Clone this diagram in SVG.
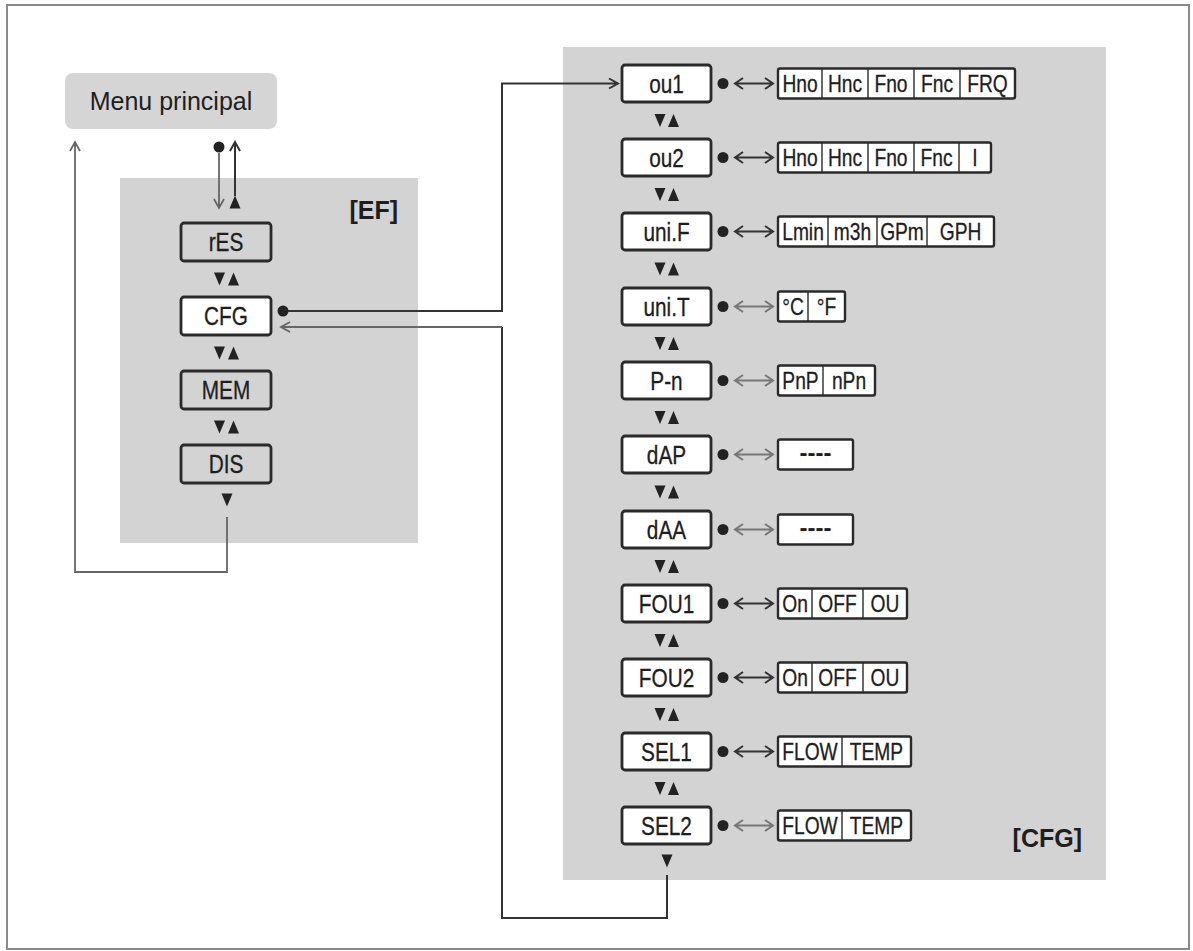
<svg xmlns="http://www.w3.org/2000/svg" width="1193" height="951" viewBox="0 0 1193 951">
<style>
text{font-family:"Liberation Sans",Arial,sans-serif;fill:#1e1e1e;}
.lbl{font-size:26px;text-anchor:middle;stroke:#1e1e1e;stroke-width:0.3;}
.opt{font-size:24px;text-anchor:middle;stroke:#1e1e1e;stroke-width:0.3;}
.big{font-size:25px;text-anchor:middle;}
.tag{font-size:25px;font-weight:bold;text-anchor:end;}
.dash{font-size:24px;text-anchor:middle;font-weight:bold;}
.panel{fill:#d3d3d3;}
.box{fill:#fff;stroke:#2a2a2a;stroke-width:2.8;}
.gbox{fill:#d3d3d3;stroke:#2a2a2a;stroke-width:2.8;}
.obox{fill:#fff;stroke:#2a2a2a;stroke-width:2.4;}
.div{stroke:#2a2a2a;stroke-width:1.4;}
.ln{fill:none;stroke:#333;stroke-width:2;}
.lg{fill:none;stroke:#666;stroke-width:1.8;}
.dot{fill:#222;}
.tri{fill:#222;}
.dbl{fill:none;stroke:#333;stroke-width:2;}
.dbl2{fill:none;stroke:#777;stroke-width:2;}
</style>
<defs>
<path id="dn" d="M-5.5,-6.5 H5.5 L0,6.5 Z"/>
<path id="up" d="M-5.5,6.5 H5.5 L0,-6.5 Z"/>
<path id="dblp" d="M0,0 H38 M8,-5.5 L0,0 L8,5.5 M30,-5.5 L38,0 L30,5.5"/>
</defs>
<rect x="0" y="0" width="1193" height="951" fill="#fff"/>
<rect x="7" y="5" width="1182" height="944" fill="none" stroke="#8a8a8a" stroke-width="2"/>

<rect id="panel-ef" class="panel" x="120" y="178" width="298" height="365"/>
<rect id="panel-cfg" class="panel" x="563" y="47" width="543" height="833"/>
<text class="tag" x="398" y="219">[EF]</text>
<text class="tag" x="1082" y="847">[CFG]</text>

<g id="menu">
<rect x="65" y="73" width="212" height="56" rx="8" fill="#d5d5d5"/>
<text class="big" x="171" y="110">Menu principal</text>
</g>

<g id="connectors">
<path class="lg" d="M227,517 V572 H75 V143 M70,151 L75,142 L80,151"/>
<circle class="dot" cx="219" cy="147" r="5.5"/>
<path class="lg" d="M219,153 V207 M214,199 L219,208 L224,199"/>
<path class="ln" d="M235,196 V143 M230,151 L235,142 L240,151"/>
<use href="#up" class="tri" x="235" y="202"/>
<circle class="dot" cx="283" cy="311" r="5.5"/>
<path class="ln" d="M288,311 H502 V83.5 H617 M609,78.5 L618,83.5 L609,88.5"/>
<path class="ln" d="M667,875 V918 H502 V327"/>
<path class="lg" d="M502,327 H281 M290,322 L281,327 L290,332"/>
<use href="#dn" class="tri" x="227" y="500"/>
<use href="#dn" class="tri" x="667" y="861"/>
</g>

<g id="ef-arrows">
<use href="#dn" class="tri" x="219.5" y="279"/><use href="#up" class="tri" x="233.5" y="279"/>
<use href="#dn" class="tri" x="219.5" y="353"/><use href="#up" class="tri" x="233.5" y="353"/>
<use href="#dn" class="tri" x="219.5" y="427"/><use href="#up" class="tri" x="233.5" y="427"/>
</g>

<g id="node-res"><rect class="gbox" x="181" y="223" width="90" height="38" rx="3"/><text class="lbl" transform="translate(226 251) scale(0.8 1)">rES</text></g>
<g id="node-cfg"><rect class="box" x="181" y="297" width="90" height="38" rx="3"/><text class="lbl" transform="translate(226 325) scale(0.8 1)">CFG</text></g>
<g id="node-mem"><rect class="gbox" x="181" y="371" width="90" height="38" rx="3"/><text class="lbl" transform="translate(226 399) scale(0.8 1)">MEM</text></g>
<g id="node-dis"><rect class="gbox" x="181" y="445" width="90" height="38" rx="3"/><text class="lbl" transform="translate(226 473) scale(0.8 1)">DIS</text></g>

<g id="cfg-arrows">
<use href="#dn" class="tri" x="660" y="120.5"/><use href="#up" class="tri" x="673.5" y="120.5"/>
<use href="#dn" class="tri" x="660" y="194.5"/><use href="#up" class="tri" x="673.5" y="194.5"/>
<use href="#dn" class="tri" x="660" y="269"/><use href="#up" class="tri" x="673.5" y="269"/>
<use href="#dn" class="tri" x="660" y="343.5"/><use href="#up" class="tri" x="673.5" y="343.5"/>
<use href="#dn" class="tri" x="660" y="417.5"/><use href="#up" class="tri" x="673.5" y="417.5"/>
<use href="#dn" class="tri" x="660" y="492"/><use href="#up" class="tri" x="673.5" y="492"/>
<use href="#dn" class="tri" x="660" y="566.5"/><use href="#up" class="tri" x="673.5" y="566.5"/>
<use href="#dn" class="tri" x="660" y="640.5"/><use href="#up" class="tri" x="673.5" y="640.5"/>
<use href="#dn" class="tri" x="660" y="714.5"/><use href="#up" class="tri" x="673.5" y="714.5"/>
<use href="#dn" class="tri" x="660" y="788.5"/><use href="#up" class="tri" x="673.5" y="788.5"/>
</g>

<g id="node-ou1">
<rect class="box" x="622" y="65" width="89" height="37" rx="3"/>
<text class="lbl" transform="translate(666.5 92.5) scale(0.8 1)">ou1</text>
<circle class="dot" cx="723" cy="83.5" r="5.5"/><use href="#dblp" class="dbl" x="735" y="83.5"/>
<rect class="obox" x="778" y="68.5" width="237" height="30" rx="2"/>
<path class="div" d="M822,68.5 V98.5 M868,68.5 V98.5 M914,68.5 V98.5 M960,68.5 V98.5"/>
<g transform="translate(0 92)"><text class="opt" transform="translate(800 0) scale(0.8 1)">Hno</text><text class="opt" transform="translate(845 0) scale(0.8 1)">Hnc</text><text class="opt" transform="translate(891 0) scale(0.8 1)">Fno</text><text class="opt" transform="translate(937 0) scale(0.8 1)">Fnc</text><text class="opt" transform="translate(987.5 0) scale(0.8 1)">FRQ</text></g>
</g>

<g id="node-ou2">
<rect class="box" x="622" y="139" width="89" height="37" rx="3"/>
<text class="lbl" transform="translate(666.5 166.5) scale(0.8 1)">ou2</text>
<circle class="dot" cx="723" cy="157.5" r="5.5"/><use href="#dblp" class="dbl" x="735" y="157.5"/>
<rect class="obox" x="778" y="142.5" width="213" height="30" rx="2"/>
<path class="div" d="M822,142.5 V172.5 M868,142.5 V172.5 M914,142.5 V172.5 M959,142.5 V172.5"/>
<g transform="translate(0 166)"><text class="opt" transform="translate(800 0) scale(0.8 1)">Hno</text><text class="opt" transform="translate(845 0) scale(0.8 1)">Hnc</text><text class="opt" transform="translate(891 0) scale(0.8 1)">Fno</text><text class="opt" transform="translate(936.5 0) scale(0.8 1)">Fnc</text><text class="opt" transform="translate(975 0) scale(0.8 1)">I</text></g>
</g>

<g id="node-unif">
<rect class="box" x="622" y="213" width="89" height="37" rx="3"/>
<text class="lbl" transform="translate(666.5 240.5) scale(0.8 1)">uni.F</text>
<circle class="dot" cx="723" cy="231.5" r="5.5"/><use href="#dblp" class="dbl" x="735" y="231.5"/>
<rect class="obox" x="778" y="216.5" width="216" height="30" rx="2"/>
<path class="div" d="M828,216.5 V246.5 M877,216.5 V246.5 M927,216.5 V246.5"/>
<g transform="translate(0 240)"><text class="opt" transform="translate(803 0) scale(0.8 1)">Lmin</text><text class="opt" transform="translate(852.5 0) scale(0.8 1)">m3h</text><text class="opt" transform="translate(902 0) scale(0.8 1)">GPm</text><text class="opt" transform="translate(960.5 0) scale(0.8 1)">GPH</text></g>
</g>

<g id="node-unit">
<rect class="box" x="622" y="288" width="89" height="37" rx="3"/>
<text class="lbl" transform="translate(666.5 315.5) scale(0.8 1)">uni.T</text>
<circle class="dot" cx="723" cy="306.5" r="5.5"/><use href="#dblp" class="dbl2" x="735" y="306.5"/>
<rect class="obox" x="778" y="291.5" width="67" height="30" rx="2"/>
<path class="div" d="M808,291.5 V321.5"/>
<g transform="translate(0 315)"><text class="opt" transform="translate(793 0) scale(0.8 1)">°C</text><text class="opt" transform="translate(826.5 0) scale(0.8 1)">°F</text></g>
</g>

<g id="node-pn">
<rect class="box" x="622" y="362" width="89" height="37" rx="3"/>
<text class="lbl" transform="translate(666.5 389.5) scale(0.8 1)">P-n</text>
<circle class="dot" cx="723" cy="380.5" r="5.5"/><use href="#dblp" class="dbl2" x="735" y="380.5"/>
<rect class="obox" x="778" y="365.5" width="97" height="30" rx="2"/>
<path class="div" d="M823,365.5 V395.5"/>
<g transform="translate(0 389)"><text class="opt" transform="translate(800.5 0) scale(0.8 1)">PnP</text><text class="opt" transform="translate(849 0) scale(0.8 1)">nPn</text></g>
</g>

<g id="node-dap">
<rect class="box" x="622" y="436" width="89" height="37" rx="3"/>
<text class="lbl" transform="translate(666.5 463.5) scale(0.8 1)">dAP</text>
<circle class="dot" cx="723" cy="454.5" r="5.5"/><use href="#dblp" class="dbl2" x="735" y="454.5"/>
<rect class="obox" x="778" y="439.5" width="75" height="30" rx="2"/>
<text class="dash" x="815.5" y="461">----</text>
</g>

<g id="node-daa">
<rect class="box" x="622" y="511" width="89" height="37" rx="3"/>
<text class="lbl" transform="translate(666.5 538.5) scale(0.8 1)">dAA</text>
<circle class="dot" cx="723" cy="529.5" r="5.5"/><use href="#dblp" class="dbl2" x="735" y="529.5"/>
<rect class="obox" x="778" y="514.5" width="75" height="30" rx="2"/>
<text class="dash" x="815.5" y="536">----</text>
</g>

<g id="node-fou1">
<rect class="box" x="622" y="585" width="89" height="37" rx="3"/>
<text class="lbl" transform="translate(666.5 612.5) scale(0.8 1)">FOU1</text>
<circle class="dot" cx="723" cy="603.5" r="5.5"/><use href="#dblp" class="dbl" x="735" y="603.5"/>
<rect class="obox" x="778" y="588.5" width="129" height="30" rx="2"/>
<path class="div" d="M812,588.5 V618.5 M863,588.5 V618.5"/>
<g transform="translate(0 612)"><text class="opt" transform="translate(795 0) scale(0.8 1)">On</text><text class="opt" transform="translate(837.5 0) scale(0.8 1)">OFF</text><text class="opt" transform="translate(885 0) scale(0.8 1)">OU</text></g>
</g>

<g id="node-fou2">
<rect class="box" x="622" y="659" width="89" height="37" rx="3"/>
<text class="lbl" transform="translate(666.5 686.5) scale(0.8 1)">FOU2</text>
<circle class="dot" cx="723" cy="677.5" r="5.5"/><use href="#dblp" class="dbl" x="735" y="677.5"/>
<rect class="obox" x="778" y="662.5" width="129" height="30" rx="2"/>
<path class="div" d="M812,662.5 V692.5 M863,662.5 V692.5"/>
<g transform="translate(0 686)"><text class="opt" transform="translate(795 0) scale(0.8 1)">On</text><text class="opt" transform="translate(837.5 0) scale(0.8 1)">OFF</text><text class="opt" transform="translate(885 0) scale(0.8 1)">OU</text></g>
</g>

<g id="node-sel1">
<rect class="box" x="622" y="733" width="89" height="37" rx="3"/>
<text class="lbl" transform="translate(666.5 760.5) scale(0.8 1)">SEL1</text>
<circle class="dot" cx="723" cy="751.5" r="5.5"/><use href="#dblp" class="dbl" x="735" y="751.5"/>
<rect class="obox" x="778" y="736.5" width="133" height="30" rx="2"/>
<path class="div" d="M842,736.5 V766.5"/>
<g transform="translate(0 760)"><text class="opt" transform="translate(810 0) scale(0.8 1)">FLOW</text><text class="opt" transform="translate(876.5 0) scale(0.8 1)">TEMP</text></g>
</g>

<g id="node-sel2">
<rect class="box" x="622" y="807" width="89" height="37" rx="3"/>
<text class="lbl" transform="translate(666.5 834.5) scale(0.8 1)">SEL2</text>
<circle class="dot" cx="723" cy="825.5" r="5.5"/><use href="#dblp" class="dbl2" x="735" y="825.5"/>
<rect class="obox" x="778" y="810.5" width="133" height="30" rx="2"/>
<path class="div" d="M842,810.5 V840.5"/>
<g transform="translate(0 834)"><text class="opt" transform="translate(810 0) scale(0.8 1)">FLOW</text><text class="opt" transform="translate(876.5 0) scale(0.8 1)">TEMP</text></g>
</g>
</svg>
